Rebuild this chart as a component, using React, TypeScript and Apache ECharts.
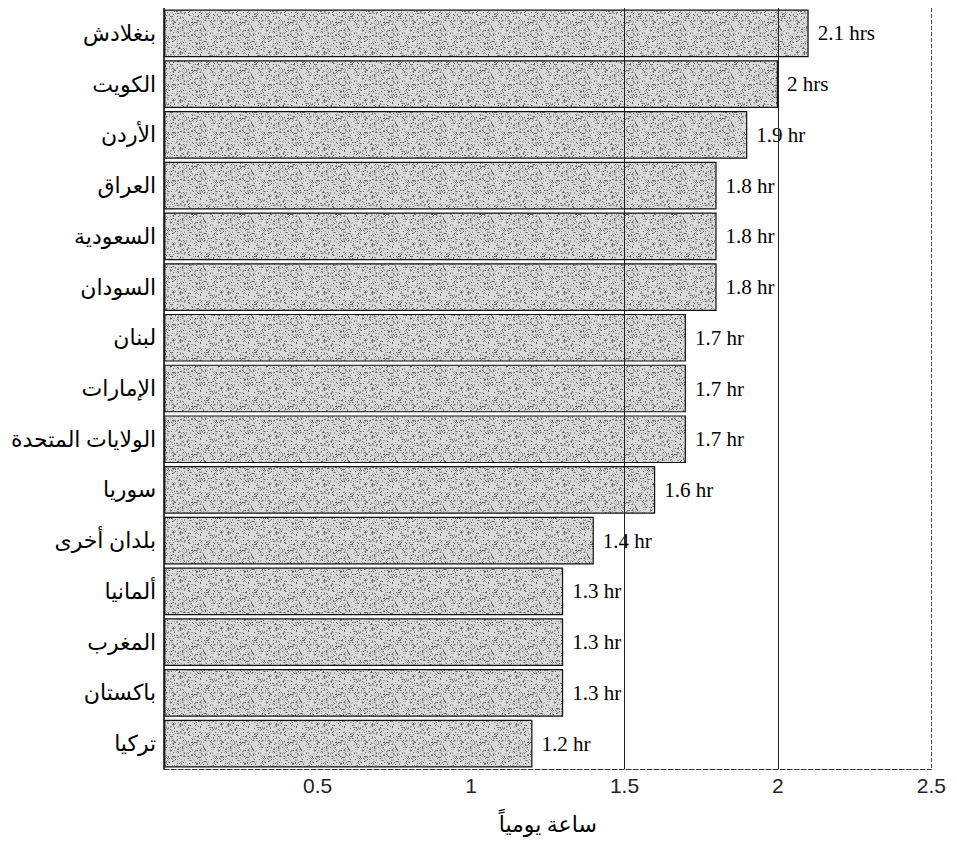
import React, { useEffect, useRef } from "react";
import * as echarts from "echarts";

const categories = [
  "بنغلادش",
  "الكويت",
  "الأردن",
  "العراق",
  "السعودية",
  "السودان",
  "لبنان",
  "الإمارات",
  "الولايات المتحدة",
  "سوريا",
  "بلدان أخرى",
  "ألمانيا",
  "المغرب",
  "باكستان",
  "تركيا",
];
const hours = [2.1, 2, 1.9, 1.8, 1.8, 1.8, 1.7, 1.7, 1.7, 1.6, 1.4, 1.3, 1.3, 1.3, 1.2];
const valueLabels = [
  "2.1 hrs",
  "2 hrs",
  "1.9 hr",
  "1.8 hr",
  "1.8 hr",
  "1.8 hr",
  "1.7 hr",
  "1.7 hr",
  "1.7 hr",
  "1.6 hr",
  "1.4 hr",
  "1.3 hr",
  "1.3 hr",
  "1.3 hr",
  "1.2 hr",
];
const gridValues = [1.5, 2, 2.5];
const axisTitle = "ساعة يومياً";

function makeStipple(): HTMLCanvasElement {
  const size = 48;
  const c = document.createElement("canvas");
  c.width = size;
  c.height = size;
  const ctx = c.getContext("2d")!;
  ctx.fillStyle = "#dadada";
  ctx.fillRect(0, 0, size, size);
  for (let y = 0; y < size; y++) {
    for (let x = 0; x < size; x++) {
      let h = (Math.imul(x + 1, 73856093) ^ Math.imul(y + 1, 19349663)) >>> 0;
      h = (Math.imul(h ^ (h >>> 13), 1274126177) >>> 0) % 100;
      if (h < 24) {
        ctx.fillStyle = h < 9 ? "#5e5e5e" : "#9c9c9c";
        ctx.fillRect(x, y, 1, 1);
      }
    }
  }
  return c;
}

export default function App() {
  const ref = useRef<HTMLDivElement>(null);
  useEffect(() => {
    if (!ref.current) return;
    const chart = echarts.init(ref.current, null, { renderer: "svg" });
    const pattern = makeStipple();
    chart.setOption({
      animation: false,
      grid: { left: 155, width: 778, top: 0, height: 769, containLabel: false },
      xAxis: {
        type: "value",
        min: 0,
        max: 2.5,
        interval: 0.5,
        name: axisTitle,
        nameLocation: "middle",
        nameGap: 44,
        nameTextStyle: {
          fontFamily: "Liberation Serif, DejaVu Sans, serif",
          fontSize: 22,
          color: "#000",
        },
        axisLine: { show: true, lineStyle: { color: "#333", width: 1, type: [5, 2] } },
        axisTick: { show: false },
        splitLine: { show: false },
        axisLabel: {
          formatter: (v: number) => (v === 0 ? "" : String(v)),
          fontFamily: "Liberation Sans, Arial, sans-serif",
          fontSize: 21,
          color: "#222",
          margin: 6,
        },
      },
      yAxis: {
        type: "category",
        data: categories,
        inverse: true,
        axisLine: { show: true, lineStyle: { color: "#000", width: 1.5 } },
        axisTick: { show: false },
        axisLabel: {
          fontFamily: "Liberation Serif, DejaVu Sans, serif",
          fontSize: 22,
          color: "#000",
          margin: 8,
        },
      },
      series: [
        {
          type: "line",
          data: [],
          z: 1,
          silent: true,
          markLine: {
            silent: true,
            symbol: "none",
            label: { show: false },
            data: gridValues.map((v) => ({
              xAxis: v,
              lineStyle: {
                color: v === 2.5 ? "#555" : "#222",
                width: 1,
                type: v === 2.5 ? [4, 2] : "solid",
              },
            })),
          },
        },
        {
          type: "bar",
          z: 2,
          data: hours,
          barCategoryGap: "6%",
          itemStyle: {
            color: { image: pattern, repeat: "repeat" },
            borderColor: "#111",
            borderWidth: 1.2,
          },
          label: {
            show: true,
            position: "right",
            distance: 9,
            formatter: (p: any) => valueLabels[p.dataIndex],
            fontFamily: "Liberation Serif, Times New Roman, serif",
            fontSize: 21,
            color: "#000",
          },
        },
      ],
    });
    return () => chart.dispose();
  }, []);
  return <div ref={ref} style={{ width: 941, height: 832 }} />;
}
